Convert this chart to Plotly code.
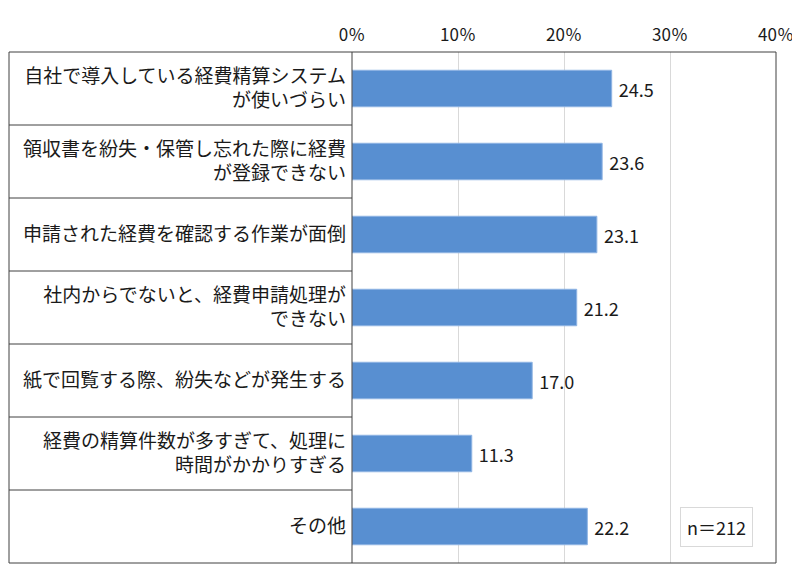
import plotly.graph_objects as go

categories = [
    "自社で導入している経費精算システム<br>が使いづらい",
    "領収書を紛失・保管し忘れた際に経費<br>が登録できない",
    "申請された経費を確認する作業が面倒",
    "社内からでないと、経費申請処理が<br>できない",
    "紙で回覧する際、紛失などが発生する",
    "経費の精算件数が多すぎて、処理に<br>時間がかかりすぎる",
    "その他",
]
values = [24.5, 23.6, 23.1, 21.2, 17.0, 11.3, 22.2]
tick_vals = [0, 10, 20, 30, 40]
tick_labels = ["0％", "10％", "20％", "30％", "40％"]
sample_note = "n＝212"

FONT = "Noto Sans CJK JP"
FRAME = "#404040"
# the page body adds an 8px offset, so margins are set 8px smaller
x_start = 343 / 767  # left edge of the plot area inside the framed box

fig = go.Figure()
fig.add_trace(
    go.Bar(
        x=values,
        y=categories,
        orientation="h",
        width=0.5,
        marker=dict(color="#588fd1", line=dict(color="#8fb4e3", width=1)),
        text=[f"{v:.1f}" for v in values],
        texttemplate=" %{text}",
        textposition="outside",
        constraintext="none",
        textfont=dict(size=18, color="#1a1a1a", family=FONT),
        cliponaxis=False,
        hoverinfo="skip",
    )
)

# row separators in the label column
shapes = []
for i in range(len(categories) - 1):
    shapes.append(
        dict(type="line", xref="paper", yref="y", x0=0, x1=x_start,
             y0=i + 0.5, y1=i + 0.5, line=dict(color=FRAME, width=1))
    )
shapes.append(
    dict(type="rect", xref="paper", yref="paper", x0=0, x1=1, y0=0, y1=1,
         line=dict(color=FRAME, width=1))
)
shapes.append(
    dict(type="line", xref="paper", yref="paper", x0=x_start, x1=x_start,
         y0=0, y1=1, line=dict(color=FRAME, width=1))
)

fig.update_layout(
    width=800,
    height=584,
    margin=dict(l=1, r=32, t=44, b=29),
    paper_bgcolor="white",
    plot_bgcolor="white",
    showlegend=False,
    font=dict(family=FONT, color="#1a1a1a"),
    xaxis=dict(
        domain=[x_start, 1],
        range=[0, 40],
        side="top",
        tickvals=tick_vals,
        ticktext=tick_labels,
        tickfont=dict(size=17, color="#1a1a1a"),
        showgrid=True,
        gridcolor="#d9d9d9",
        zeroline=False,
        showline=False,
        ticks="",
        ticklabelstandoff=7,
        automargin=False,
    ),
    yaxis=dict(
        range=[6.5, -0.5],
        tickfont=dict(size=19, color="#1a1a1a"),
        ticks="",
        showgrid=False,
        showline=False,
        ticklabelstandoff=5,
        automargin=False,
    ),
    shapes=shapes,
    annotations=[
        dict(
            text=sample_note,
            xref="paper", yref="y", x=0.923, y=6,
            xanchor="center", yanchor="middle",
            showarrow=False,
            font=dict(size=18, color="#1a1a1a", family=FONT),
            bordercolor="#d9d9d9", borderwidth=1, borderpad=6,
            bgcolor="white",
        )
    ],
)

fig.write_html("out.html")
